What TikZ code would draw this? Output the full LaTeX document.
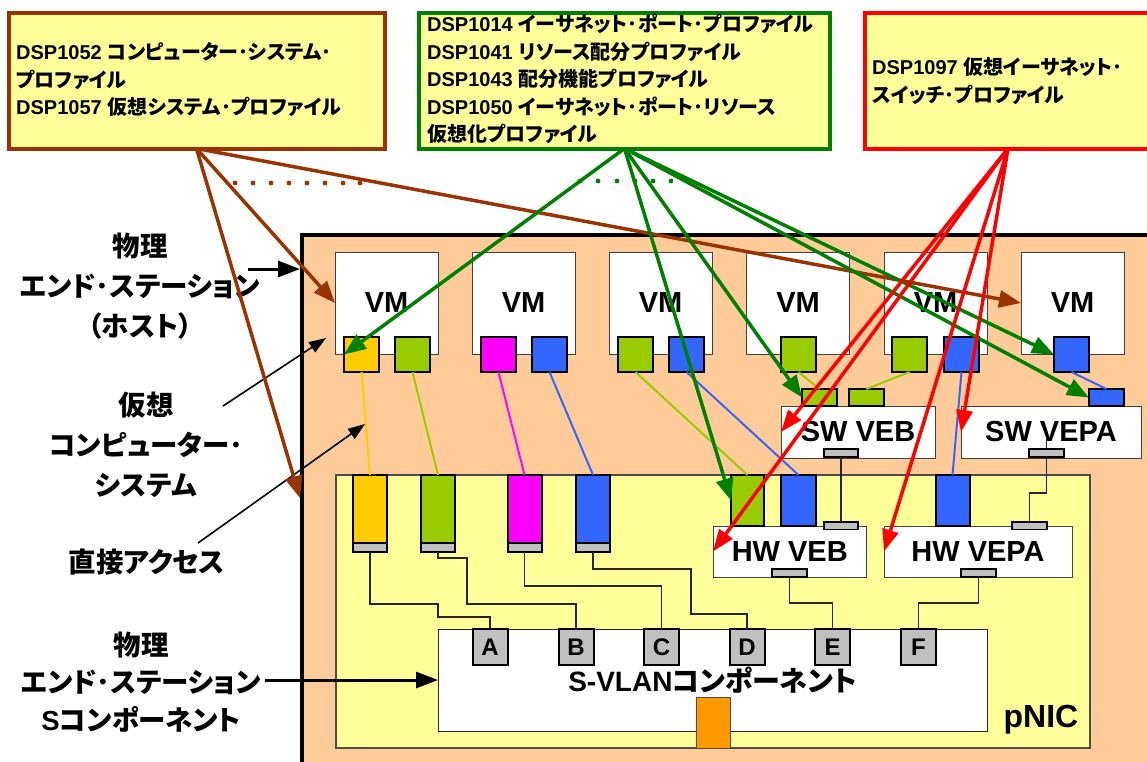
\documentclass[tikz,border=0pt]{standalone}
\usepackage{fontspec}
\setmainfont{Liberation Sans}
\newfontfamily\jp[RawFeature=+palt]{Noto Sans CJK JP}
\usetikzlibrary{arrows.meta}
\newcommand\jt[1]{{\jp\bfseries #1}}
\newcommand\latb[1]{{\bfseries #1}}
\definecolor{brn}{HTML}{993300}
\definecolor{dgreen}{HTML}{008000}
\definecolor{lyel}{HTML}{FFFF99}
\definecolor{peach}{HTML}{FFCC99}
\definecolor{pyel}{HTML}{FFCC00}
\definecolor{pgrn}{HTML}{99CC00}
\definecolor{pmag}{HTML}{FF00FF}
\definecolor{pblu}{HTML}{3366FF}
\definecolor{pgry}{HTML}{C0C0C0}
\definecolor{pora}{HTML}{FF9900}
\begin{document}
\begin{tikzpicture}[x=1pt,y=-1pt,
  box/.style={inner sep=0pt, outer sep=0pt, anchor=north west},
  topbox/.style={box, line width=4pt, fill=lyel, minimum height=136pt},
  boxtext/.style={anchor=west, align=left, inner sep=0pt, font=\fontsize{20}{27.5}\selectfont},
  vm/.style={box, draw=black!75, line width=1pt, fill=white, minimum width=103pt, minimum height=102pt, font=\fontsize{29}{30}\selectfont\bfseries},
  vport/.style={box, draw=black, line width=2pt, minimum width=35pt, minimum height=35pt},
  sport/.style={box, draw=black, line width=2pt, minimum width=35pt, minimum height=17pt},
  tport/.style={box, draw=black, line width=2pt, minimum width=34pt},
  gport/.style={box, draw=black, line width=1.6pt, fill=pgry, minimum width=35pt, minimum height=8pt},
  swbox/.style={box, draw=black!75, line width=1pt, fill=white, minimum height=52pt, font=\fontsize{29}{30}\selectfont\bfseries},
  letter/.style={box, draw=black, line width=2pt, fill=pgry, minimum width=35pt, minimum height=36pt, font=\fontsize{24}{24}\selectfont\bfseries},
  wire/.style={draw=black!85, line width=1.3pt},
  cw/.style={line width=2pt},
  lbl/.style={align=center, inner sep=0pt, font=\fontsize{27.5}{40}\selectfont},
  brarrow/.style={draw=brn, line width=3.5pt, -{Triangle[length=22pt,width=17pt]}},
  grarrow/.style={draw=dgreen, line width=3.5pt, -{Triangle[length=22pt,width=17pt]}},
  rdarrow/.style={draw=red, line width=3.5pt, -{Triangle[length=22pt,width=16pt]}},
  bkthick/.style={draw=black, line width=3pt, -{Triangle[length=22pt,width=16pt]}},
  bkthin/.style={draw=black, line width=1.6pt, -{Triangle[length=17pt,width=12pt]}}
]
\useasboundingbox (0,0) rectangle (1147,761);
\clip (0,0) rectangle (1147,761);
\fill[white] (0,0) rectangle (1147,761);

% top boxes
\node[topbox, draw=brn, minimum width=376pt] (b1) at (8.5,12.5) {};
\node[topbox, draw=dgreen, minimum width=411pt] (b2) at (419,12.5) {};
\node[topbox, draw=red, minimum width=286pt] (b3) at (865,12.5) {};
\node[boxtext] (b1t) at (16,80) {\latb{DSP1052} \jt{コンピューター･システム･}\\\jt{プロファイル}\\\latb{DSP1057} \jt{仮想システム･プロファイル}};
\node[boxtext] (b2t) at (427,79) {\latb{DSP1014} \jt{イーサネット･ポート･プロファイル}\\\latb{DSP1041} \jt{リソース配分プロファイル}\\\latb{DSP1043} \jt{配分機能プロファイル}\\\latb{DSP1050} \jt{イーサネット･ポート･リソース}\\\jt{仮想化プロファイル}};
\node[boxtext] (b3t) at (872,81) {\latb{DSP1097} \jt{仮想イーサネット･}\\\jt{スイッチ･プロファイル}};

% host
\node[box, draw=black, line width=4pt, fill=peach, minimum width=900pt, minimum height=600pt] (host) at (302,235) {};

% pNIC
\node[box, draw=black!70, line width=1.3pt, fill=lyel, minimum width=754pt, minimum height=273pt] (pnic) at (336,475) {};
\node[font=\fontsize{32}{32}\selectfont\bfseries, inner sep=0pt] (pnict) at (1041,720) {pNIC};

% S-VLAN component
\node[box, draw=black!85, line width=1pt, fill=white, minimum width=549pt, minimum height=102pt, font=\fontsize{28}{29}\selectfont] (svlan) at (438,629) {\latb{S-VLAN}\jt{コンポーネント}};
\node[letter] (A) at (472.5,629) {A};
\node[letter] (B) at (558.5,629) {B};
\node[letter] (C) at (644,629) {C};
\node[letter] (D) at (729.5,629) {D};
\node[letter] (E) at (815,629) {E};
\node[letter] (F) at (901,629) {F};
\node[box, draw=black!70, line width=1pt, fill=pora, minimum width=34pt, minimum height=51pt] (orp) at (696,697) {};

% VMs
\node[vm] (vm1) at (335,252) {VM};
\node[vm] (vm2) at (472,252) {VM};
\node[vm] (vm3) at (609,252) {VM};
\node[vm] (vm4) at (746.5,252) {VM};
\node[vm] (vm5) at (884,252) {VM};
\node[vm] (vm6) at (1021,252) {VM};

% SW / HW bridges
\node[swbox, minimum width=154pt] (swveb) at (781,406) {SW VEB};
\node[swbox, minimum width=180pt] (swvepa) at (961,406) {SW VEPA};
\node[swbox, minimum width=153.5pt, minimum height=51pt] (hwveb) at (713,526) {HW VEB};
\node[swbox, minimum width=188pt, minimum height=51pt] (hwvepa) at (884,526) {HW VEPA};

% black wires
\coordinate (svpx) at (1046.5,437);
\draw[wire] (svpx) -- (1046.5,493) -- (1029.5,493) -- (1029.5,522);

% pNIC tall ports
\node[tport, fill=pyel, minimum height=68pt] (t1) at (353,475) {};
\node[tport, fill=pgrn, minimum height=68pt] (t2) at (421,475) {};
\node[tport, fill=pmag, minimum height=68pt] (t3) at (507.5,475) {};
\node[tport, fill=pblu, minimum height=68pt] (t4) at (576,475) {};
\node[tport, fill=pgry, minimum height=9pt] (g1) at (353,543) {};
\node[tport, fill=pgry, minimum height=9pt] (g2) at (421,543) {};
\node[tport, fill=pgry, minimum height=9pt] (g3) at (507.5,543) {};
\node[tport, fill=pgry, minimum height=9pt] (g4) at (576,543) {};
\node[tport, fill=pgrn, minimum width=33pt, minimum height=51pt] (hg) at (731,475) {};
\node[tport, fill=pblu, minimum width=35pt, minimum height=51pt] (hb) at (781,475) {};
\node[tport, fill=pblu, minimum height=51pt] (hpb) at (935.5,475) {};

% gray small ports
\node[gport, minimum width=34pt] (svb) at (824,449) {};
\node[gport] (svpb) at (1029,449) {};
\node[gport, minimum width=34pt, minimum height=7.5pt] (hvt) at (824,522) {};
\node[gport] (hvb) at (772,569) {};
\node[gport, minimum height=7.5pt] (hpt) at (1012,522) {};
\node[gport] (hpbt) at (961,569) {};

% wires to S-VLAN
\draw[wire] (g1.south) -- (370,604) -- (438,604) -- (438,617) -- (A.north |- 0,617) -- (A.north);
\draw[wire] (g2.south) -- (438,558) -- (467,558) -- (467,604) -- (B.north |- 0,604) -- (B.north);
\draw[wire] (g3.south) -- (524.5,586) -- (C.north |- 0,586) -- (C.north);
\draw[wire] (g4.south) -- (593,569) -- (691,569) -- (691,614) -- (D.north |- 0,614) -- (D.north);
\draw[wire] (hvb.south) -- (789.5,603) -- (E.north |- 0,603) -- (E.north);
\draw[wire] (hpbt.south) -- (978.5,603) -- (F.north |- 0,603) -- (F.north);
\draw[wire] (svb.south) -- (hvt.north);

% VM ports
\node[vport, fill=pyel] (p1a) at (344,337) {};
\node[vport, fill=pgrn] (p1b) at (395,337) {};
\node[vport, fill=pmag] (p2a) at (481,337) {};
\node[vport, fill=pblu] (p2b) at (532,337) {};
\node[vport, fill=pgrn] (p3a) at (618,337) {};
\node[vport, fill=pblu] (p3b) at (669,337) {};
\node[vport, fill=pgrn] (p4) at (781,337) {};
\node[vport, fill=pgrn] (p5a) at (892,337) {};
\node[vport, fill=pblu] (p5b) at (944,337) {};
\node[vport, fill=pblu] (p6) at (1054,337) {};

% SW top ports
\node[sport, fill=pgrn] (sg1) at (802,389) {};
\node[sport, fill=pgrn] (sg2) at (849,389) {};
\node[sport, fill=pblu] (sb) at (1089,389) {};

% coloured wires
\draw[cw, pyel] (p1a.south) -- (t1.north);
\draw[cw, pgrn] (p1b.south) -- (t2.north);
\draw[cw, pmag] (p2a.south) -- (t3.north);
\draw[cw, pblu] (p2b.south) -- (t4.north);
\draw[cw, pgrn] (p3a.south) -- (hg.north);
\draw[cw, pblu] (p3b.south) -- (hb.north);
\draw[cw, pgrn] (p4.south) -- (sg1.north);
\draw[cw, pgrn] (p5a.south) -- (sg2.north);
\draw[cw, pblu] (p5b.south) -- (hpb.north);
\draw[cw, pblu] (p6.south) -- (sb.north);

% left labels
\node[lbl] (l1) at (140,286) {\jt{物理}\\\jt{エンド･ステーション}\\\jt{（ホスト）}};
\node[lbl] (l2) at (146,445) {\jt{仮想}\\\jt{コンピューター･}\\\jt{システム}};
\node[lbl] (l3) at (147,562) {\jt{直接アクセス}};
\node[lbl, font=\fontsize{27.5}{37.5}\selectfont] (l4) at (141,682) {\jt{物理}\\\jt{エンド･ステーション}\\\latb{S}\jt{コンポーネント}};

\coordinate (l1s) at (248,269);
\coordinate (l1t) at (300,269);
\coordinate (l2s) at (223,406);
\coordinate (l2t) at (326,338);
\coordinate (l3s) at (198,543);
\coordinate (l3t) at (365,424);
\coordinate (l4s) at (265,680);
\draw[bkthick] (l1s) -- (l1t);
\draw[bkthin] (l2s) -- (l2t);
\draw[bkthin] (l3s) -- (l3t);
\draw[bkthick] (l4s) -- (svlan.west);

% brown arrows
\coordinate (hostL) at (300,498);
\draw[brarrow] (b1.south) -- (vm1.west);
\draw[brarrow] (b1.south) -- (hostL);
\draw[brarrow] (b1.south) -- (vm6.west);
\foreach \x in {235,253,271,289,307,325,343,360} \fill[brn] (\x,183) circle[radius=2.4pt];

% green arrows
\draw[grarrow] (b2.south) -- (p1a.west);
\draw[grarrow] (b2.south) -- (hg.west);
\draw[grarrow] (b2.south) -- (sg1.west);
\draw[grarrow] (b2.south) -- (p6.west);
\draw[grarrow] (b2.south) -- (sb.west);
\foreach \x in {580,598,617,635,653,671} \fill[dgreen] (\x,181) circle[radius=2.4pt];

% red arrows
\draw[rdarrow] (b3.south) -- (swveb.west);
\draw[rdarrow] (b3.south) -- (hwveb.west);
\draw[rdarrow] (b3.south) -- (swvepa.west);
\draw[rdarrow] (b3.south) -- (hwvepa.west);
\end{tikzpicture}
\end{document}
